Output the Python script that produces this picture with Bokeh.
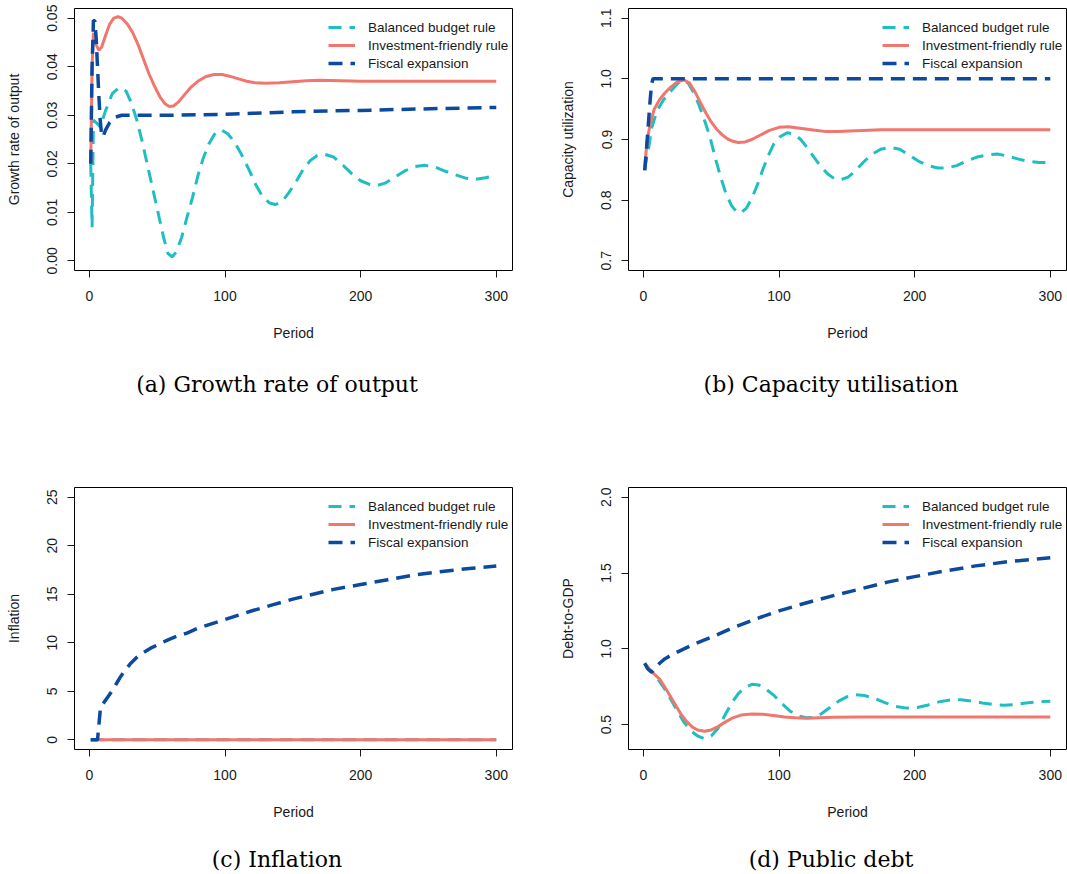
from bokeh.plotting import figure
from bokeh.layouts import column, row
from bokeh.models import Range1d, FixedTicker, Legend, LegendItem, LinearAxis
from bokeh.embed import file_html
from bokeh.resources import INLINE

# ---------------- data ----------------
series_names = ["Balanced budget rule", "Investment-friendly rule", "Fiscal expansion"]
x_ticks = [0, 100, 200, 300]

# (a) Growth rate of output
a_bal_t = [1, 2, 3, 5, 8, 12, 17, 22, 27, 31, 35, 39, 43, 47, 51, 55, 58, 61, 64, 68, 72, 76, 80, 84, 88, 92,
           97, 102, 107, 112, 118, 123, 128, 133, 137, 142, 147, 153, 158, 163, 168, 173, 180, 187, 194, 200,
           207, 212, 218, 225, 233, 240, 247, 255, 262, 270, 278, 285, 292, 300]
a_bal_v = [0.020, 0.0069, 0.029, 0.0285, 0.0276, 0.031, 0.0345, 0.0357, 0.0350, 0.0325, 0.0290, 0.0245, 0.0195,
           0.0145, 0.0095, 0.0045, 0.0015, 0.0008, 0.0018, 0.0048, 0.0090, 0.0130, 0.0175, 0.0212, 0.0240, 0.0260,
           0.0270, 0.0262, 0.0245, 0.0220, 0.0186, 0.0155, 0.0131, 0.0119, 0.0116, 0.0122, 0.0140, 0.0166, 0.0190,
           0.0207, 0.0217, 0.0220, 0.0214, 0.0197, 0.0178, 0.0165, 0.0157, 0.0155, 0.0160, 0.0172, 0.0186, 0.0194,
           0.0197, 0.0193, 0.0185, 0.0177, 0.0170, 0.0168, 0.0171, 0.0176]
a_inv_t = [1, 2, 3, 4, 5, 7, 9, 12, 15, 18, 21, 24, 28, 32, 36, 40, 44, 48, 52, 56, 59, 62, 66, 70, 75, 80, 86,
           92, 98, 104, 110, 116, 122, 130, 140, 150, 160, 170, 185, 200, 250, 300]
a_inv_v = [0.020, 0.040, 0.047, 0.046, 0.0445, 0.0434, 0.0440, 0.0465, 0.0488, 0.0500, 0.0503, 0.0500, 0.0488,
           0.0470, 0.0445, 0.0415, 0.0385, 0.0360, 0.0338, 0.0323, 0.0318, 0.0319, 0.0328, 0.0342, 0.0358, 0.0370,
           0.0380, 0.0384, 0.0384, 0.0380, 0.0375, 0.0370, 0.0367, 0.0366, 0.0367, 0.0369, 0.0371, 0.0372, 0.0371,
           0.0370, 0.0370, 0.0370]
a_fis_t = [1, 2, 3, 4, 5, 6, 7, 8, 9, 10, 12, 15, 19, 24, 40, 60, 80, 100, 120, 150, 180, 200, 230, 260, 300]
a_fis_v = [0.020, 0.040, 0.0495, 0.0495, 0.046, 0.040, 0.034, 0.029, 0.026, 0.0255, 0.027, 0.0285, 0.0296,
           0.0300, 0.0300, 0.0300, 0.0301, 0.0302, 0.0304, 0.0307, 0.0309, 0.0310, 0.0312, 0.0314, 0.0316]
a_yticks = [0.00, 0.01, 0.02, 0.03, 0.04, 0.05]
a_ylabels = ["0.00", "0.01", "0.02", "0.03", "0.04", "0.05"]

# (b) Capacity utilisation
b_bal_t = [1, 2, 4, 6, 10, 15, 20, 25, 29, 33, 37, 41, 45, 49, 53, 57, 61, 65, 69, 72, 76, 80, 84, 88, 92, 96,
           101, 106, 111, 116, 121, 126, 131, 136, 141, 146, 151, 156, 162, 168, 175, 182, 189, 196, 203, 210,
           217, 224, 231, 238, 246, 254, 261, 268, 276, 284, 292, 300]
b_bal_v = [0.850, 0.865, 0.887, 0.918, 0.947, 0.966, 0.979, 0.992, 0.998, 0.993, 0.978, 0.957, 0.932, 0.905,
           0.870, 0.838, 0.810, 0.791, 0.780, 0.779, 0.787, 0.803, 0.825, 0.850, 0.873, 0.892, 0.905, 0.911,
           0.909, 0.900, 0.886, 0.870, 0.855, 0.843, 0.835, 0.834, 0.838, 0.848, 0.862, 0.875, 0.884, 0.887,
           0.884, 0.874, 0.864, 0.857, 0.853, 0.853, 0.857, 0.864, 0.871, 0.875, 0.876, 0.873, 0.868, 0.864,
           0.862, 0.862]
b_inv_t = [1, 2, 3, 5, 8, 12, 16, 20, 25, 30, 34, 38, 42, 46, 50, 54, 58, 62, 66, 70, 75, 80, 86, 93, 100, 107,
           114, 121, 128, 135, 143, 152, 162, 175, 200, 250, 300]
b_inv_v = [0.855, 0.880, 0.900, 0.926, 0.950, 0.966, 0.977, 0.986, 0.995, 0.998, 0.993, 0.979, 0.961, 0.944,
           0.929, 0.917, 0.908, 0.901, 0.897, 0.895, 0.896, 0.900, 0.907, 0.915, 0.920, 0.921, 0.919, 0.917,
           0.915, 0.913, 0.913, 0.914, 0.915, 0.916, 0.916, 0.916, 0.916]
b_fis_t = [1, 2, 3, 4, 5, 6, 7, 100, 200, 300]
b_fis_v = [0.849, 0.875, 0.905, 0.935, 0.965, 0.990, 1.000, 1.000, 1.000, 1.000]
b_yticks = [0.7, 0.8, 0.9, 1.0, 1.1]
b_ylabels = ["0.7", "0.8", "0.9", "1.0", "1.1"]

# (c) Inflation
c_bal_t = [1, 100, 200, 300]
c_bal_v = [0.0, 0.0, 0.0, 0.0]
c_inv_t = [1, 100, 200, 300]
c_inv_v = [0.0, 0.0, 0.0, 0.0]
c_fis_t = [1, 6, 7, 8, 9, 11, 14, 17, 20, 23, 26, 30, 35, 40, 46, 52, 58, 65, 72, 80, 90, 100, 110, 120, 135,
           150, 165, 180, 200, 220, 240, 260, 280, 300]
c_fis_v = [0.0, 0.0, 1.5, 3.0, 3.5, 3.9, 4.5, 5.1, 5.8, 6.5, 7.1, 7.8, 8.5, 9.0, 9.5, 9.9, 10.3, 10.7, 11.0,
           11.5, 11.95, 12.4, 12.85, 13.3, 13.9, 14.5, 15.0, 15.5, 16.0, 16.5, 17.0, 17.35, 17.65, 17.9]
c_yticks = [0, 5, 10, 15, 20, 25]
c_ylabels = ["0", "5", "10", "15", "20", "25"]

# (d) Public debt
d_bal_t = [1, 5, 10, 15, 20, 25, 30, 35, 40, 45, 50, 55, 60, 65, 70, 75, 80, 85, 90, 96, 102, 108, 114, 120,
           126, 131, 137, 144, 150, 156, 163, 170, 178, 186, 194, 202, 210, 218, 226, 234, 242, 250, 258, 266,
           274, 282, 290, 300]
d_bal_v = [0.905, 0.860, 0.810, 0.745, 0.670, 0.590, 0.515, 0.460, 0.425, 0.408, 0.425, 0.475, 0.560, 0.640,
           0.705, 0.745, 0.766, 0.762, 0.737, 0.695, 0.640, 0.590, 0.558, 0.545, 0.548, 0.570, 0.610, 0.655,
           0.683, 0.697, 0.692, 0.675, 0.645, 0.620, 0.609, 0.613, 0.630, 0.650, 0.662, 0.664, 0.655, 0.643,
           0.633, 0.628, 0.632, 0.642, 0.650, 0.655]
d_inv_t = [1, 4, 8, 12, 16, 20, 24, 28, 32, 36, 40, 45, 50, 55, 60, 66, 72, 80, 88, 96, 104, 112, 120, 130,
           140, 160, 200, 300]
d_inv_v = [0.900, 0.870, 0.833, 0.800, 0.745, 0.685, 0.625, 0.565, 0.520, 0.485, 0.465, 0.456, 0.465, 0.487,
           0.515, 0.545, 0.563, 0.570, 0.568, 0.560, 0.551, 0.545, 0.542, 0.546, 0.549, 0.551, 0.551, 0.551]
d_fis_t = [1, 3, 6, 9, 12, 16, 22, 30, 38, 46, 55, 65, 75, 87, 100, 115, 130, 145, 160, 180, 200, 220, 245,
           270, 300]
d_fis_v = [0.905, 0.870, 0.845, 0.875, 0.905, 0.935, 0.965, 1.000, 1.033, 1.062, 1.095, 1.135, 1.170, 1.210,
           1.250, 1.290, 1.327, 1.362, 1.395, 1.440, 1.476, 1.510, 1.547, 1.576, 1.600]
d_yticks = [0.5, 1.0, 1.5, 2.0]
d_ylabels = ["0.5", "1.0", "1.5", "2.0"]

# ---------------- styling ----------------
COL_BAL = "#1FBEC3"
COL_INV = "#F0766E"
COL_FIS = "#0B4A9E"
SANS = "Liberation Sans"
SERIF = "DejaVu Serif"
TXT = "#1a1a1a"
FRAME_W = 438
FRAME_H = 262


def make_panel(width, top, bottom, ylab, yrange, yticks, ylabels, data, caption, cap_standoff):
    p = figure(width=width, height=top + FRAME_H + bottom,
               x_range=Range1d(-10.96, 311.96), y_range=Range1d(*yrange),
               output_backend="svg", toolbar_location=None,
               min_border_left=74, min_border_right=width - 74 - FRAME_W,
               min_border_top=top, min_border_bottom=bottom)
    p.xgrid.visible = False
    p.ygrid.visible = False
    p.outline_line_color = "black"
    p.outline_line_width = 1
    p.background_fill_color = "white"
    p.border_fill_color = "white"

    (bt, bv), (it, iv), (ft, fv) = data
    r1 = p.line(bt, bv, line_color=COL_BAL, line_width=3, line_dash="13 8")
    r2 = p.line(it, iv, line_color=COL_INV, line_width=3)
    r3 = p.line(ft, fv, line_color=COL_FIS, line_width=3.5, line_dash="14 8")

    for ax in (p.xaxis[0], p.yaxis[0]):
        ax.axis_line_color = None
        ax.major_tick_line_color = TXT
        ax.major_tick_in = 0
        ax.major_tick_out = 7
        ax.minor_tick_line_color = None
        ax.major_label_text_font = SANS
        ax.major_label_text_font_size = "14px"
        ax.major_label_text_color = TXT
        ax.axis_label_text_font = SANS
        ax.axis_label_text_font_size = "14px"
        ax.axis_label_text_font_style = "normal"
        ax.axis_label_text_color = TXT

    xa = p.xaxis[0]
    xa.ticker = FixedTicker(ticks=x_ticks)
    xa.major_label_overrides = {t: str(t) for t in x_ticks}
    xa.major_label_standoff = 13
    xa.axis_label = "Period"
    xa.axis_label_standoff = 21

    ya = p.yaxis[0]
    ya.ticker = FixedTicker(ticks=yticks)
    ya.major_label_overrides = {t: l for t, l in zip(yticks, ylabels)}
    ya.major_label_orientation = "vertical"
    ya.major_label_standoff = 10
    ya.axis_label = ylab
    ya.axis_label_standoff = 23

    legend = Legend(items=[LegendItem(label=series_names[0], renderers=[r1]),
                           LegendItem(label=series_names[1], renderers=[r2]),
                           LegendItem(label=series_names[2], renderers=[r3])],
                    location=(254, 198), margin=0, padding=0, spacing=0,
                    glyph_width=27, glyph_height=18, label_height=18, label_standoff=13,
                    label_text_font=SANS, label_text_font_size="13.5px", label_text_color=TXT,
                    border_line_color=None, background_fill_alpha=0)
    p.add_layout(legend)

    # sub-figure caption, drawn as the label of an empty second bottom axis;
    # the trailing em/en spaces move its centre left, onto the sub-figure centre
    cap_ax = LinearAxis(ticker=FixedTicker(ticks=[]), axis_label=caption + "\u2003\u2002",
                        axis_line_color=None, major_tick_in=0, major_tick_out=0,
                        minor_tick_in=0, minor_tick_out=0, minor_tick_line_color=None,
                        major_tick_line_color=None, major_label_standoff=0,
                        axis_label_standoff=cap_standoff,
                        axis_label_text_font=SERIF, axis_label_text_font_size="22px",
                        axis_label_text_font_style="normal", axis_label_text_color="black")
    p.add_layout(cap_ax, "below")
    return p


pa = make_panel(554, 8, 167, "Growth rate of output", (-0.002, 0.052), a_yticks, a_ylabels,
                [(a_bal_t, a_bal_v), (a_inv_t, a_inv_v), (a_fis_t, a_fis_v)], "(a) Growth rate of output", 28)
pb = make_panel(513, 8, 167, "Capacity utilization", (0.684, 1.116), b_yticks, b_ylabels,
                [(b_bal_t, b_bal_v), (b_inv_t, b_inv_v), (b_fis_t, b_fis_v)], "(b) Capacity utilisation", 28)
pc = make_panel(554, 50, 125, "Inflation", (-1.0, 26.0), c_yticks, c_ylabels,
                [(c_bal_t, c_bal_v), (c_inv_t, c_inv_v), (c_fis_t, c_fis_v)], "(c) Inflation", 24)
pd = make_panel(513, 50, 125, "Debt-to-GDP", (0.336, 2.064), d_yticks, d_ylabels,
                [(d_bal_t, d_bal_v), (d_inv_t, d_inv_v), (d_fis_t, d_fis_v)], "(d) Public debt", 24)

layout = column(row(pa, pb, spacing=0), row(pc, pd, spacing=0), spacing=0)

open("out.html", "w").write(file_html(layout, INLINE))
